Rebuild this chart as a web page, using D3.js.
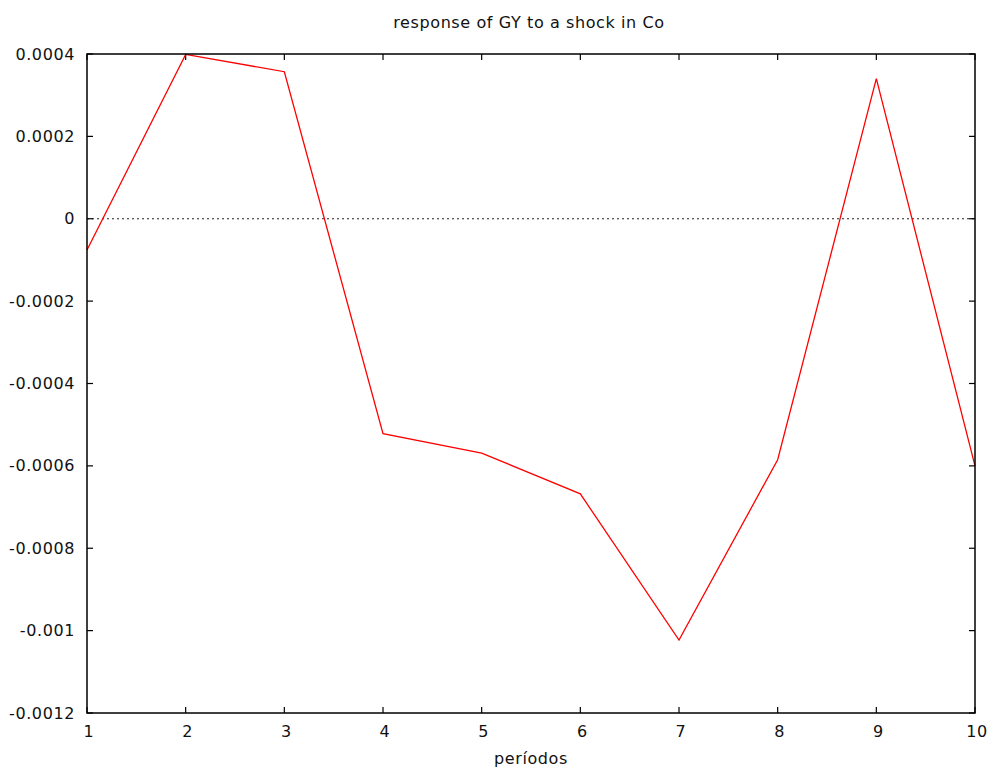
<!DOCTYPE html>
<html>
<head>
<meta charset="utf-8">
<script src="https://cdn.jsdelivr.net/npm/d3@7"></script>
<style>
  body { margin: 0; background: #fff; }
  text { font-family: "DejaVu Sans", sans-serif; fill: #111; font-size: 16px; letter-spacing: 0.6px; }
</style>
</head>
<body>
<svg id="chart" width="990" height="767"></svg>
<script>
// impulse response values
var periods = [1, 2, 3, 4, 5, 6, 7, 8, 9, 10];
var response = [-0.000076, 0.000399, 0.000357, -0.000522, -0.000569, -0.000668, -0.001023, -0.000585, 0.00034, -0.0006];
var yTicks = [0.0004, 0.0002, 0, -0.0002, -0.0004, -0.0006, -0.0008, -0.001, -0.0012];
var xTicks = [1, 2, 3, 4, 5, 6, 7, 8, 9, 10];

var margin = { top: 54, right: 15, bottom: 54, left: 87 };
var svg = d3.select('#chart');
var width = 990 - margin.left - margin.right;
var height = 767 - margin.top - margin.bottom;

var x = d3.scaleLinear().domain([1, 10]).range([0, width]);
var y = d3.scaleLinear().domain([-0.0012, 0.0004]).range([height, 0]);

var g = svg.append('g').attr('transform', 'translate(' + margin.left + ',' + margin.top + ')');

// zero line
g.append('line')
    .attr('x1', 0).attr('x2', width)
    .attr('y1', y(0)).attr('y2', y(0))
    .attr('stroke', '#222')
    .attr('stroke-width', 1)
    .attr('stroke-dasharray', '2,3');

// inward ticks on all four sides
var tickLen = 6;
g.selectAll('.xt-b').data(xTicks).enter().append('line')
    .attr('x1', d => x(d)).attr('x2', d => x(d))
    .attr('y1', height).attr('y2', height - tickLen)
    .attr('stroke', '#000').attr('stroke-width', 1.2);
g.selectAll('.xt-t').data(xTicks).enter().append('line')
    .attr('x1', d => x(d)).attr('x2', d => x(d))
    .attr('y1', 0).attr('y2', tickLen)
    .attr('stroke', '#000').attr('stroke-width', 1.2);
g.selectAll('.yt-l').data(yTicks).enter().append('line')
    .attr('x1', 0).attr('x2', tickLen)
    .attr('y1', d => y(d)).attr('y2', d => y(d))
    .attr('stroke', '#000').attr('stroke-width', 1.2);
g.selectAll('.yt-r').data(yTicks).enter().append('line')
    .attr('x1', width).attr('x2', width - tickLen)
    .attr('y1', d => y(d)).attr('y2', d => y(d))
    .attr('stroke', '#000').attr('stroke-width', 1.2);

// tick labels
g.selectAll('.yl').data(yTicks).enter().append('text')
    .attr('x', -12)
    .attr('y', d => y(d))
    .attr('dy', '0.35em')
    .attr('text-anchor', 'end')
    .text(d => d === 0 ? '0' : String(+d.toPrecision(2)));
g.selectAll('.xl').data(xTicks).enter().append('text')
    .attr('x', d => x(d) + 2)
    .attr('y', height + 24)
    .attr('text-anchor', 'middle')
    .text(d => d);

// series
var line = d3.line()
    .x((d, i) => x(periods[i]))
    .y(d => y(d));
g.append('path')
    .datum(response)
    .attr('fill', 'none')
    .attr('stroke', '#ff0000')
    .attr('stroke-width', 1.3)
    .attr('d', line);

// frame
g.append('rect')
    .attr('x', 0).attr('y', 0)
    .attr('width', width).attr('height', height)
    .attr('fill', 'none')
    .attr('stroke', '#000')
    .attr('stroke-width', 1.5);

// title and axis label
svg.append('text')
    .attr('x', 529)
    .attr('y', 28)
    .attr('text-anchor', 'middle')
    .text('response of GY to a shock in Co');
svg.append('text')
    .attr('x', margin.left + width / 2)
    .attr('y', 764)
    .attr('text-anchor', 'middle')
    .text('períodos');
</script>
</body>
</html>
